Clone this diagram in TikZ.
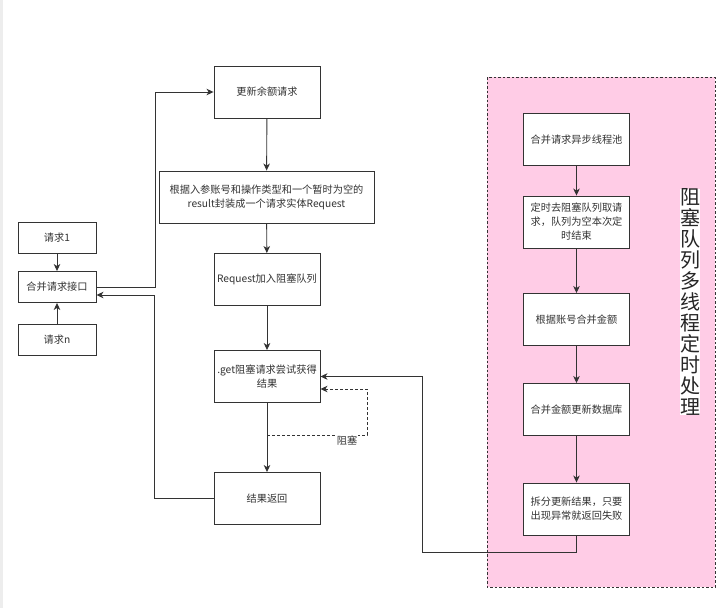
\documentclass[tikz,border=0pt]{standalone}
\usepackage{fontspec}
\setmainfont{Noto Sans CJK SC}
\usetikzlibrary{arrows}
\usetikzlibrary{arrows.meta}
\definecolor{qpink}{RGB}{255,204,230}
\definecolor{lnc}{RGB}{51,51,51}

\tikzset{
  box/.style={draw=lnc, line width=0.9pt, fill=white, minimum width=106pt, minimum height=52pt,
    align=center, inner sep=2pt, font=\fontsize{10.2}{14}\selectfont, text=black!80},
  small/.style={box, minimum width=78pt, minimum height=31pt},
  arr/.style={-{Stealth[length=7pt, width=6.5pt, inset=2pt]}, draw=lnc, line width=0.9pt}
}

\begin{document}
\begin{tikzpicture}[x=1pt,y=-1pt]
    \useasboundingbox (0,0) rectangle (725,608);
    \fill[black!7] (0,0) rectangle (2.5,608);
    % pink area
    \draw[fill=qpink, draw=lnc, line width=0.8pt, dash pattern=on 2.5pt off 2pt] (487,77) rectangle (715,587);
    \node[fill=white, inner sep=0pt, align=center, font=\fontsize{20}{21}\selectfont, text=black!85] (title) at (690,302)
        {阻\\塞\\队\\列\\多\\线\\程\\定\\时\\处\\理};

    \node[small] (q1) at (57,238) {请求1};
    \node[small] (merge) at (57,287) {合并请求接口};
    \node[small] (qn) at (57,339.5) {请求n};

    \node[box] (upd) at (267,92) {更新余额请求};
    \node[box, minimum width=215pt] (wrap) at (266.5,197) {根据入参账号和操作类型和一个暂时为空的\\result封装成一个请求实体Request};
    \node[box] (enq) at (267,279.5) {Request加入阻塞队列};
    \node[box] (get) at (267,376.5) {.get阻塞请求尝试获得\\结果};
    \node[box] (ret) at (267,498.5) {结果返回};

    \node[box] (pool) at (576.5,139.5) {合并请求异步线程池};
    \node[box] (take) at (576.5,222) {定时去阻塞队列取请\\求，队列为空本次定\\时结束};
    \node[box] (sum) at (576.5,319.5) {根据账号合并金额};
    \node[box] (db) at (576.5,409.5) {合并金额更新数据库};
    \node[box] (split) at (576.5,509) {拆分更新结果，只要\\出现异常就返回失败};

    \draw[arr] (q1) -- (merge);
    \draw[arr] (qn) -- (merge);
    \draw[arr] (merge.east) -- ++(59,0) |- (upd.west);
    \draw[arr] (upd) -- (wrap);
    \draw[arr] (wrap) -- (enq);
    \draw[arr] (enq) -- (get);
    \draw[arr] (get) -- (ret);
    \draw[arr] (ret.west) -- ++(-59,0) |- ([yshift=-8pt]merge.east);

    \coordinate (blk) at (267,435);
    \draw[arr, dash pattern=on 3pt off 2pt] (blk) -- (367,435) |- ([yshift=-12.5pt]get.east);
    \node[font=\fontsize{10.2}{14}\selectfont, text=black!80, fill=white, inner sep=1pt] (blklabel) at (347,441) {阻塞};

    \draw[arr] (pool) -- (take);
    \draw[arr] (take) -- (sum);
    \draw[arr] (sum) -- (db);
    \draw[arr] (db) -- (split);
    \draw[arr] (split.south) |- (422,552) |- (get.east);
\end{tikzpicture}
\end{document}
